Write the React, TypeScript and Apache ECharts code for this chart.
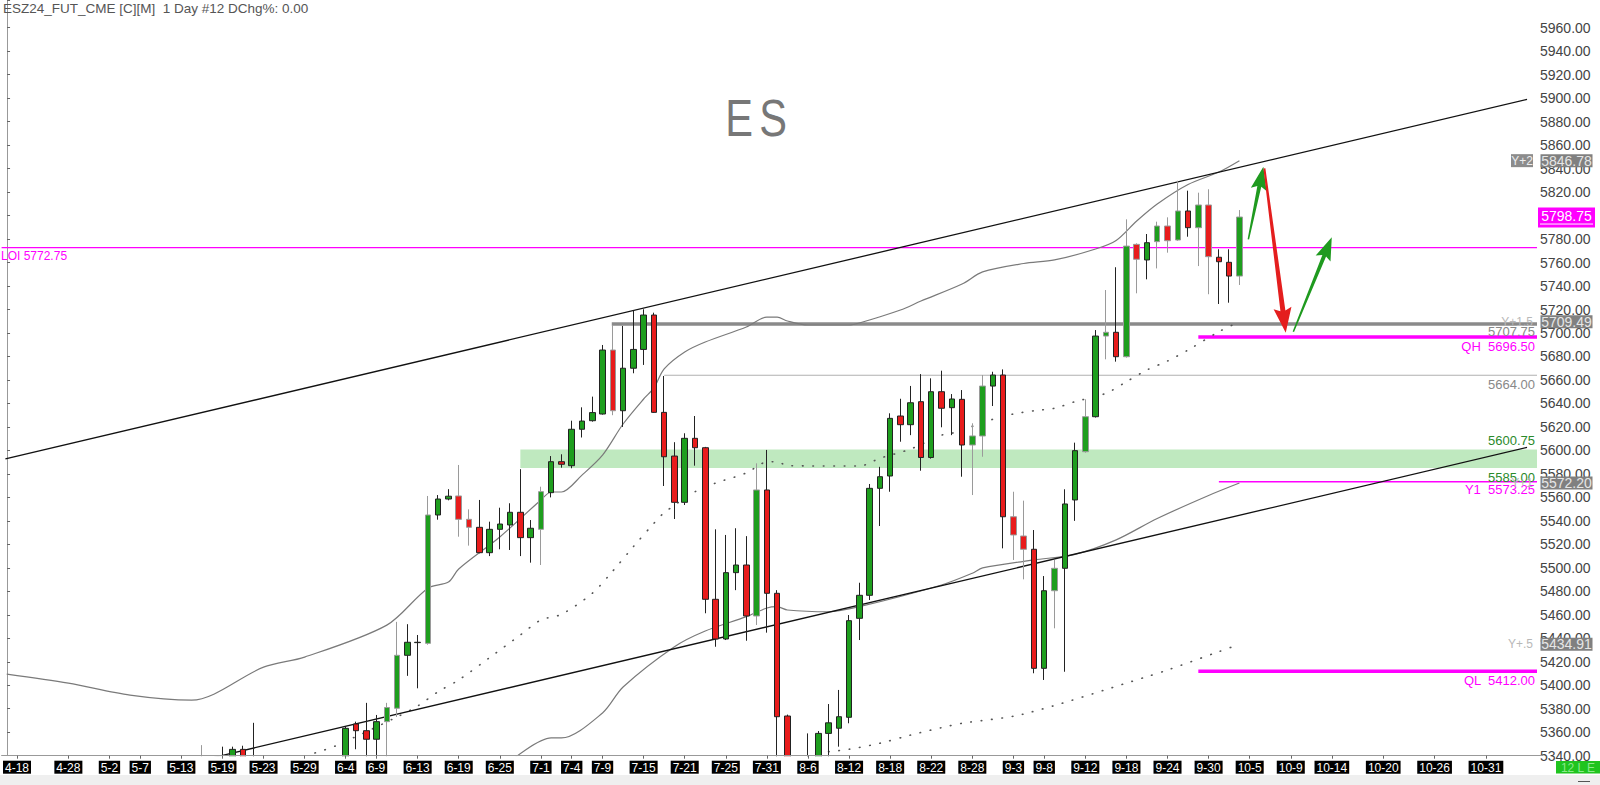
import React, { useEffect, useRef } from 'react';
import * as echarts from 'echarts';

// ---------------- data ----------------
const N_SLOTS = 150;
const tickIdx = [1, 6, 10, 13, 17, 21, 25, 29, 33, 36, 40, 44, 48, 52, 55, 58, 62, 66, 70, 74, 78, 82, 86, 90, 94, 98, 101, 105, 109, 113, 117, 121, 125, 129, 134, 139, 144];
const tickTxt = ['4-18', '4-28', '5-2', '5-7', '5-13', '5-19', '5-23', '5-29', '6-4', '6-9', '6-13', '6-19', '6-25', '7-1', '7-4', '7-9', '7-15', '7-21', '7-25', '7-31', '8-6', '8-12', '8-18', '8-22', '8-28', '9-3', '9-8', '9-12', '9-18', '9-24', '9-30', '10-5', '10-9', '10-14', '10-20', '10-26', '10-31'];

// daily bars: [open, high, low, close]
const candles: number[][] = [
  [5022, 5059, 4994, 5007], [5007, 5078, 5000, 5051], [5051, 5116, 5048, 5110], [5110, 5128, 5086, 5111],
  [5111, 5114, 5041, 5087], [5087, 5154, 5080, 5139], [5139, 5162, 5127, 5154], [5154, 5158, 5073, 5074],
  [5074, 5132, 5049, 5054], [5054, 5109, 5047, 5100], [5100, 5173, 5098, 5162], [5162, 5213, 5158, 5213],
  [5213, 5231, 5208, 5219], [5219, 5222, 5201, 5218], [5218, 5244, 5210, 5243], [5243, 5267, 5237, 5251],
  [5251, 5266, 5233, 5247], [5247, 5275, 5236, 5272], [5272, 5335, 5268, 5332], [5332, 5349, 5320, 5321],
  [5321, 5329, 5306, 5326], [5326, 5347.7, 5322, 5331], [5331, 5347.7, 5318, 5345.4], [5345.4, 5348.5, 5318, 5330],
  [5330, 5368, 5280, 5290], [5290, 5331, 5285, 5325], [5325, 5330, 5318, 5327], [5327, 5336, 5300, 5326],
  [5326, 5328, 5282, 5287], [5287, 5292, 5240, 5252], [5252, 5297, 5203, 5287], [5287, 5311, 5243, 5292],
  [5292, 5307, 5266, 5300], [5300, 5364.5, 5296, 5363.3], [5367, 5369, 5345.5, 5361.3], [5361.3, 5385, 5339, 5354],
  [5354, 5374.7, 5338, 5369], [5369, 5385, 5339, 5381], [5380.4, 5454, 5373, 5425.5], [5425.5, 5452, 5408, 5436.6],
  [5436.3, 5442.8, 5397.4, 5436.6], [5435.7, 5561.2, 5434.5, 5545], [5545, 5562, 5541, 5558.6], [5558.6, 5567, 5557.5, 5561],
  [5561.2, 5587.6, 5526.5, 5541.3], [5541.3, 5549.8, 5518.9, 5534.5], [5534.5, 5557.8, 5512.4, 5512.9], [5512.9, 5539.3, 5510, 5532.8],
  [5532.8, 5551.2, 5515.8, 5537.3], [5536.5, 5555, 5515.2, 5547.3], [5547.3, 5584, 5510, 5525.7], [5525.7, 5540.7, 5504.4, 5533.7],
  [5532.8, 5569.1, 5502.4, 5564.9], [5564, 5595.2, 5560, 5590.4], [5590.4, 5596.7, 5585.3, 5588.2], [5587, 5625.3, 5584.8, 5618],
  [5618, 5636.7, 5611, 5625], [5625.3, 5645.8, 5624.5, 5632.2], [5631, 5689.8, 5630.5, 5685.5], [5685.5, 5706.8, 5630, 5633.8],
  [5633.8, 5706, 5620, 5670], [5670, 5719, 5665.7, 5686], [5686, 5720.2, 5672.8, 5715.3], [5715.3, 5717.3, 5632, 5632.4],
  [5632.4, 5663.4, 5569.7, 5594.6], [5595.2, 5607, 5541.6, 5555.8], [5555.8, 5614.6, 5553.5, 5610.3], [5610.3, 5629.3, 5587, 5602.3],
  [5602.3, 5603, 5461.3, 5473.2], [5473.2, 5532.8, 5432.8, 5439.4], [5439.4, 5528, 5438.5, 5495.9], [5495.9, 5533.7, 5481, 5502.4],
  [5502.4, 5527, 5437.9, 5459], [5459, 5589, 5451.3, 5566.3], [5566.3, 5600.4, 5444.8, 5478.3], [5478.3, 5481, 5328, 5373.2],
  [5373.8, 5375, 5120, 5213], [5213, 5335, 5190, 5267], [5267, 5359, 5222, 5228], [5228, 5361, 5220, 5359],
  [5359, 5384, 5330, 5368], [5363.4, 5396, 5347.7, 5373.2], [5372.7, 5459.8, 5367.6, 5455], [5457, 5487.3, 5438.5, 5476.6],
  [5476.6, 5571.4, 5472.6, 5567.7], [5567.7, 5586, 5535.6, 5577.6], [5578.2, 5631.6, 5564.8, 5627.3], [5629.3, 5644, 5607.4, 5621.9],
  [5621.9, 5654.9, 5613, 5640.6], [5641.5, 5665, 5582.7, 5594], [5594, 5661.4, 5593, 5650], [5650, 5667.9, 5619.7, 5635.9],
  [5636.4, 5648, 5613, 5643.8], [5643.5, 5651.4, 5577.6, 5604.6], [5604.6, 5623.1, 5562, 5612.3], [5612.3, 5664.2, 5594.6, 5654.8],
  [5654.8, 5667, 5637.8, 5664.2], [5664.2, 5669, 5516.6, 5543.5], [5543.5, 5564.8, 5506.7, 5528], [5527.1, 5557.2, 5490.2, 5515.8],
  [5515.8, 5532.2, 5410.2, 5414.4], [5414.4, 5493, 5404.5, 5480.5], [5480.5, 5506.7, 5448.5, 5499.6], [5499.6, 5566.9, 5411.5, 5554.4],
  [5557.8, 5606.6, 5540, 5599.8], [5598.9, 5643.5, 5598, 5628.7], [5628.7, 5702.5, 5628, 5697.4], [5697.4, 5736.6, 5677.6, 5700.6],
  [5700.6, 5756, 5675.6, 5679.8], [5679.8, 5796.8, 5679, 5774], [5775.5, 5776.4, 5733.8, 5762.8], [5762.2, 5784.3, 5745.7, 5776.9],
  [5777.8, 5794.8, 5755, 5791.1], [5791.1, 5798.5, 5768.4, 5778.6], [5779.2, 5829.7, 5778.5, 5803.9], [5803.9, 5821.2, 5782, 5789.7],
  [5789.7, 5819.5, 5757, 5809], [5809, 5822.4, 5733, 5765], [5764.5, 5771.3, 5724.7, 5760.7], [5760.2, 5771.3, 5725.8, 5748.5],
  [5748.5, 5804.7, 5740.9, 5798.75],
];
// bars drawn with a grey wick
const greyWick = [19, 37, 38, 41, 44, 45, 52, 59, 73, 94, 95, 98, 99, 102, 105, 107, 109, 110, 112, 113, 114, 116, 117, 120];

// bands: [bar index, price]
const bandY2 = [[0, 5409.5], [6, 5401.8], [12, 5391.6], [18, 5387.3], [25, 5415.4], [29, 5424], [37, 5451.2], [41, 5482.7], [43, 5487.9], [44, 5499], [48, 5526.3], [52, 5557.8], [53, 5564.6], [54, 5564.6], [56, 5579], [58, 5596], [60, 5622.5], [62, 5643.8], [63, 5653.2], [64, 5669.4], [66, 5683.8], [68, 5692.3], [72, 5705.1], [74, 5713.6], [75, 5713.6], [76, 5710.2], [78, 5706.8], [82, 5706.8], [83, 5708.5], [87, 5719.6], [89, 5727.2], [93, 5741.7], [95, 5752], [99, 5759.2], [102, 5762.2], [106, 5771.5], [108, 5778.8], [110, 5795.4], [112, 5809.9], [115, 5826.5], [118, 5837.1], [120, 5846.78]];
const bandY15 = [[30, 5342.3], [32, 5348.3], [38, 5373], [40, 5382.3], [42, 5394.5], [44, 5404.5], [47, 5423.5], [50, 5442.8], [52, 5455.6], [54, 5460.4], [57, 5478.3], [59, 5497.3], [61, 5518], [63, 5537.9], [64, 5546.9], [67, 5564.8], [69, 5572.2], [72, 5580.8], [74, 5590.2], [75, 5590.4], [76, 5587], [83, 5586.7], [85, 5593.3], [88, 5601.2], [91, 5613], [92, 5614.6], [96, 5626.5], [98, 5631], [100, 5633.8], [102, 5635.9], [104, 5641.5], [107, 5648.6], [109, 5658.5], [111, 5668.5], [113, 5676.1], [115, 5685.5], [118, 5701.1], [120, 5709.49]];
const bandY1 = [[49, 5335], [53, 5355.1], [54, 5355.1], [58, 5376.4], [60, 5398.5], [65, 5432.8], [68, 5446.2], [72, 5458.4], [74, 5465.8], [75, 5466.9], [76, 5464.1], [80, 5462.6], [83, 5466.9], [91, 5485.4], [94, 5495.4], [95, 5499.9], [100, 5506.7], [104, 5511.5], [108, 5523.8], [112, 5542], [117, 5561.6], [120, 5572.2]];
const bandY05 = [[80, 5343.4], [82, 5345.5], [85, 5350.6], [88, 5357.6], [91, 5363.9], [93, 5367.6], [99, 5375.5], [111, 5407.3], [113, 5413], [118, 5428.6], [120, 5434.91]];

// trend lines [[index, price], [index, price]]
const upperTrend = [[-0.13, 5592.7], [148.0, 5899.0]];
const lowerTrend = [[20.2, 5338.6], [148.0, 5602.6]];

// levels
const LOI = 5772.75;
const QH = 5696.5;
const QL = 5412.0;
const Y1 = 5573.25;
const GREY_LEVEL = 5707.75;
const PRIOR_HIGH = 5664.0;
const ZONE_TOP = 5600.75;
const ZONE_BOT = 5585.0;
const LAST = 5798.75;
const bandTags = [['Y+2', 5846.78], ['Y+1.5', 5709.49], ['Y+1', 5572.2], ['Y+.5', 5434.91]];

// drawn arrows: [fromIdx, fromPrice, toIdx, toPrice]
const arrowsUp = [[120.87, 5779.8, 122.33, 5841.6], [125.25, 5701.1, 128.99, 5781.5]];
const arrowsDown = [[122.43, 5840.3, 124.51, 5700.2]];

const FONT = 'Liberation Sans, Arial, sans-serif';
const GREEN = '#1e9e1e';
const RED = '#e81c1c';
const MAG = '#ff00ff';

export default function App() {
  const ref = useRef<HTMLDivElement>(null);
  useEffect(() => {
    const el = ref.current!;
    const chart = echarts.init(el, null, { renderer: 'svg' });
    const tickSet = new Set(tickIdx);
    const tickMap: Record<number, string> = {};
    tickIdx.forEach((i, k) => (tickMap[i] = tickTxt[k]));
    const cats = Array.from({ length: N_SLOTS }, (_, i) => String(i));
    const V_END = 148.97;

    const candleData = candles.map((c, i) => {
      const item: any = { value: [c[0], c[3], c[2], c[1]] };
      if (greyWick.includes(i)) item.itemStyle = { borderColor: '#9a9a9a', borderColor0: '#9a9a9a' };
      return item;
    });

    const hline = (price: number, from: number, color: string, width: number, extra: any = {}) => ({
      type: 'line', xAxisIndex: 1, yAxisIndex: 0, data: [[from, price], [V_END, price]],
      symbol: 'none', silent: true, z: 2, lineStyle: { color, width }, ...extra,
    });

    const option: any = {
      animation: false,
      backgroundColor: '#fff',
      grid: { left: 1.2, right: 57.55, top: 0, bottom: 29.3 },
      xAxis: [
        {
          type: 'category', data: cats, boundaryGap: true, z: 100,
          axisLine: { show: true, lineStyle: { color: '#999' } },
          axisTick: { show: true, interval: (i: number) => tickSet.has(i), alignWithLabel: true, length: 3, lineStyle: { color: '#666' } },
          axisLabel: {
            interval: (i: number) => tickSet.has(i),
            formatter: (_v: string, i: number) => tickMap[i] || '',
            color: '#fff', backgroundColor: '#000', padding: [1, 2, 0, 2],
            fontSize: 12, lineHeight: 12, fontFamily: FONT, margin: 5,
          },
          splitLine: { show: false },
        },
        { type: 'value', min: -0.5, max: N_SLOTS - 0.5, show: false },
      ],
      yAxis: {
        type: 'value', position: 'right', min: 5340, max: 5983.6, interval: 20, offset: -5.45, z: 0,
        axisLine: { show: true, lineStyle: { color: '#999' } },
        axisTick: { show: true, length: 3, lineStyle: { color: '#666' } },
        axisLabel: {
          margin: 3, fontSize: 14, color: '#444', fontFamily: FONT,
          formatter: (v: number) => (v > 5970 ? '' : v.toFixed(2)),
        },
        splitLine: { show: false },
      },
      series: [
        hline(PRIOR_HIGH, 64, '#b0b0b0', 1.2, {
          markArea: {
            silent: true,
            itemStyle: { color: '#bfe9bf', opacity: 1 },
            data: [[{ coord: [50, ZONE_TOP] }, { coord: [V_END, ZONE_BOT] }]],
          },
          z: 1,
        }),
        hline(GREY_LEVEL, 58.9, '#8a8a8a', 3.5),
        hline(LOI, -0.5, MAG, 1.2),
        hline(QH, 116, MAG, 3.5),
        hline(QL, 116, MAG, 3.5),
        hline(Y1, 118, MAG, 1.5),
        {
          type: 'line', xAxisIndex: 1, data: upperTrend, symbol: 'none', silent: true, z: 4,
          lineStyle: { color: '#111', width: 1.3 },
        },
        {
          type: 'line', xAxisIndex: 1, data: lowerTrend, symbol: 'none', silent: true, z: 4,
          lineStyle: { color: '#111', width: 1.3 },
        },
        {
          type: 'line', xAxisIndex: 1, data: bandY2, symbol: 'none', smooth: 0.3, silent: true, z: 3,
          lineStyle: { color: '#7a7a7a', width: 1.2 },
        },
        {
          type: 'line', xAxisIndex: 1, data: bandY1, symbol: 'none', smooth: 0.3, silent: true, z: 3,
          lineStyle: { color: '#7a7a7a', width: 1.2 },
        },
        {
          type: 'line', xAxisIndex: 1, data: bandY15, symbol: 'none', smooth: 0.3, silent: true, z: 3,
          lineStyle: { color: '#555', width: 1.6, type: [0.6, 9.8], cap: 'round' },
        },
        {
          type: 'line', xAxisIndex: 1, data: bandY05, symbol: 'none', smooth: 0.3, silent: true, z: 3,
          lineStyle: { color: '#555', width: 1.6, type: [0.6, 9.8], cap: 'round' },
        },
        {
          type: 'candlestick', xAxisIndex: 0, yAxisIndex: 0, data: candleData, barWidth: 6, z: 5, clip: true,
          itemStyle: { color: GREEN, color0: RED, borderColor: '#222', borderColor0: '#222', borderWidth: 1 },
        },
      ],
    };
    chart.setOption(option);

    const px = (v: number) => chart.convertToPixel({ xAxisIndex: 1 }, v) as number;
    const py = (p: number) => chart.convertToPixel({ yAxisIndex: 0 }, p) as number;
    const RX = 1535;
    const g: any[] = [];
    const txt = (text: string, x: number, y: number, fill: string, size: number, align = 'right', z = 50) =>
      g.push({ type: 'text', z, style: { text, x, y, fill, font: `${size}px ${FONT}`, align, verticalAlign: 'middle' } });

    // cover for bar parts that fall below the price axis
    const axisY = py(5340);
    g.push({ type: 'rect', z: 20, shape: { x: 0, y: axisY + 0.5, width: 1536.5, height: 785 - axisY }, style: { fill: '#fff' } });

    // title
    txt('ESZ24_FUT_CME [C][M]  1 Day #12 DChg%: 0.00', 3, 8, '#555', 13.5, 'left');
    g.push({ type: 'text', z: 50, x: 739, y: 118, scaleX: 0.8, style: { text: 'E', x: 0, y: 0, fill: '#777', font: `52px ${FONT}`, align: 'center', verticalAlign: 'middle' } });
    g.push({ type: 'text', z: 50, x: 773, y: 118, scaleX: 0.8, style: { text: 'S', x: 0, y: 0, fill: '#777', font: `52px ${FONT}`, align: 'center', verticalAlign: 'middle' } });

    // level texts
    txt(`LOI ${LOI.toFixed(2)}`, 1, py(LOI) + 8, MAG, 12, 'left');
    txt(GREY_LEVEL.toFixed(2), RX, py(GREY_LEVEL) + 8, '#888', 13);
    txt(`QH  ${QH.toFixed(2)}`, RX, py(QH) + 9, MAG, 13);
    txt(PRIOR_HIGH.toFixed(2), RX, py(PRIOR_HIGH) + 9, '#888', 13);
    txt(ZONE_TOP.toFixed(2), RX, py(ZONE_TOP) - 9, '#2b8a2b', 13);
    txt(ZONE_BOT.toFixed(2), RX, py(ZONE_BOT) + 9, '#2b8a2b', 13);
    txt(`Y1  ${Y1.toFixed(2)}`, RX, py(Y1) + 8, MAG, 13);
    txt(`QL  ${QL.toFixed(2)}`, RX, py(QL) + 9, MAG, 13);

    // band tags on axis
    bandTags.forEach(([name, val], k) => {
      const y = py(val as number);
      if (k === 0) {
        g.push({ type: 'rect', z: 60, shape: { x: 1511, y: y - 6.5, width: 22, height: 13 }, style: { fill: '#8c8c8c' } });
        txt(name as string, 1522, y, '#eee', 12, 'center', 61);
      } else {
        txt(name as string, 1533, y, '#b8b8b8', 12);
      }
      g.push({ type: 'rect', z: 60, shape: { x: 1540.5, y: y - 6.5, width: 52, height: 13 }, style: { fill: '#808080' } });
      txt((val as number).toFixed(2), 1566.5, y, '#e6e6e6', 14, 'center', 61);
    });
    // last price tag
    {
      const y = py(LAST);
      g.push({ type: 'rect', z: 60, shape: { x: 1538, y: y - 9.5, width: 57, height: 20 }, style: { fill: MAG } });
      txt(LAST.toFixed(2), 1566.5, y - 1, '#fff', 14, 'center', 61);
      g.push({ type: 'line', z: 61, shape: { x1: 1540, y1: y + 7, x2: 1593, y2: y + 7 }, style: { stroke: '#fff', lineWidth: 1 } });
    }

    // arrows
    const arrow = (a: number[], color: string, w0: number, w1: number, hw: number, hl: number) => {
      const x0 = px(a[0]), y0 = py(a[1]), x1 = px(a[2]), y1 = py(a[3]);
      const dx = x1 - x0, dy = y1 - y0, L = Math.hypot(dx, dy);
      const ux = dx / L, uy = dy / L, nx = -uy, ny = ux;
      const bx = x1 - ux * hl, by = y1 - uy * hl;
      const pts = [
        [x0 + nx * w0 / 2, y0 + ny * w0 / 2], [bx + nx * w1 / 2, by + ny * w1 / 2],
        [bx + nx * hw / 2 - ux * 3, by + ny * hw / 2 - uy * 3], [x1, y1],
        [bx - nx * hw / 2 - ux * 3, by - ny * hw / 2 - uy * 3], [bx - nx * w1 / 2, by - ny * w1 / 2],
        [x0 - nx * w0 / 2, y0 - ny * w0 / 2],
      ];
      g.push({ type: 'polygon', z: 40, shape: { points: pts }, style: { fill: color } });
    };
    arrowsUp.forEach((a) => arrow(a, '#1f9a1f', 1.5, 4, 16, 20));
    arrowsDown.forEach((a) => arrow(a, '#e41e1e', 2, 5, 18, 22));

    // bottom strip and status box
    g.push({ type: 'rect', z: 30, shape: { x: 0, y: 775, width: 1600, height: 10 }, style: { fill: '#efefef' } });
    g.push({ type: 'line', z: 31, shape: { x1: 1578, y1: 781.5, x2: 1590, y2: 781.5 }, style: { stroke: '#555', lineWidth: 1 } });
    g.push({ type: 'rect', z: 60, shape: { x: 1556, y: 761, width: 44, height: 12.5 }, style: { fill: '#1fc41f' } });
    txt('12 L E', 1578, 767.5, '#8be88b', 12, 'center', 61);

    chart.setOption({ graphic: g });
    return () => chart.dispose();
  }, []);
  return <div ref={ref} style={{ position: 'fixed', left: 0, top: 0, width: 1600, height: 785, background: '#fff' }} />;
}
